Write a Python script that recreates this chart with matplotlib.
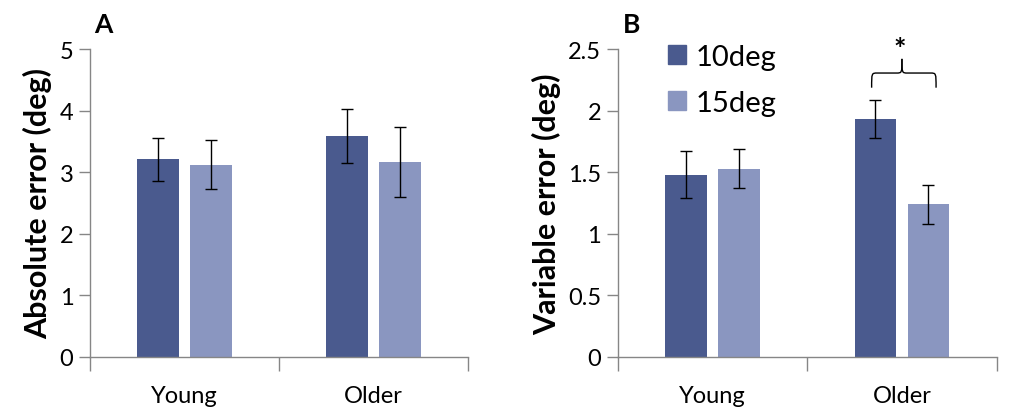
import numpy as np
import matplotlib
matplotlib.use('Agg')
import matplotlib.pyplot as plt
from matplotlib.patches import Patch
from matplotlib.path import Path
from matplotlib.patches import PathPatch

plt.rcParams['font.family'] = ['Lato', 'DejaVu Sans']

# Data
groups = ['Young', 'Older']
conditions = ['10deg', '15deg']

abs_10 = [3.21, 3.59]
abs_15 = [3.12, 3.16]
abs_10_err = [0.35, 0.44]
abs_15_err = [0.40, 0.57]

var_10 = [1.48, 1.93]
var_15 = [1.53, 1.24]
var_10_err = [0.19, 0.155]
var_15_err = [0.16, 0.157]

dark = '#4a5a8e'
light = '#8a96c0'
spine_col = '#868686'


def style_axes(ax, ylim, yticks, ylabel):
    x = np.arange(len(groups))
    ax.set_xlim(-0.5, len(groups) - 0.5)
    ax.set_ylim(*ylim)
    ax.set_yticks(yticks)
    ax.set_yticklabels([f'{t:g}' for t in yticks])
    ax.set_xticks(np.arange(len(groups) + 1) - 0.5)
    ax.set_xticklabels([])
    ax.set_xticks(x, minor=True)
    ax.set_xticklabels(groups, minor=True)
    ax.tick_params(axis='x', which='minor', length=0, pad=20, labelsize=17)
    ax.tick_params(axis='x', which='major', length=10, width=1, color=spine_col)
    ax.tick_params(axis='y', length=8, width=1, color=spine_col, labelsize=17, pad=4)
    for s in ['top', 'right']:
        ax.spines[s].set_visible(False)
    for s in ['left', 'bottom']:
        ax.spines[s].set_color(spine_col)
        ax.spines[s].set_linewidth(1)
    ax.set_ylabel(ylabel, fontsize=22, fontweight='bold', labelpad=5)


def draw_bars(ax, v10, v15, e10, e15):
    x = np.arange(len(groups))
    off, w = 0.14, 0.22
    ekw = dict(ecolor='black', elinewidth=1, capsize=4, capthick=1)
    ax.bar(x - off, v10, w, color=dark, yerr=e10, error_kw=ekw)
    ax.bar(x + off, v15, w, color=light, yerr=e15, error_kw=ekw)
    return off


fig = plt.figure(figsize=(10.16, 4.14), dpi=100)
axA = fig.add_axes([0.0886, 0.1353, 0.372, 0.7439])
axB = fig.add_axes([0.608, 0.1353, 0.373, 0.7439])

draw_bars(axA, abs_10, abs_15, abs_10_err, abs_15_err)
style_axes(axA, (0, 5), [0, 1, 2, 3, 4, 5], 'Absolute error (deg)')

off = draw_bars(axB, var_10, var_15, var_10_err, var_15_err)
style_axes(axB, (0, 2.5), [0, 0.5, 1, 1.5, 2, 2.5], 'Variable error (deg)')

fig.text(0.093, 0.92, 'A', fontsize=19, fontweight='bold')
fig.text(0.613, 0.92, 'B', fontsize=19, fontweight='bold')

# Legend
handles = [Patch(color=dark, label=conditions[0]), Patch(color=light, label=conditions[1])]
axB.legend(handles=handles, loc='upper left', bbox_to_anchor=(0.095, 1.065),
           frameon=False, fontsize=21, handlelength=0.62, handleheight=0.62,
           handletextpad=0.3, labelspacing=0.7, borderpad=0)

# Significance brace over the Older group
gi = 1
xl = gi - off - 0.02
xr = gi + off + 0.04
xm = (xl + xr) / 2 - 0.01
y_end = 2.186
y_bar = 2.305
y_top = 2.42
r = 0.03
verts = [
    (xl, y_end), (xl, y_bar), (xl, y_bar), (xl + r, y_bar),
    (xm - r, y_bar), (xm, y_bar), (xm, y_bar), (xm, y_top),
]
codes = [Path.MOVETO, Path.CURVE4, Path.CURVE4, Path.CURVE4,
         Path.LINETO, Path.CURVE4, Path.CURVE4, Path.CURVE4]
verts2 = [
    (xr, y_end), (xr, y_bar), (xr, y_bar), (xr - r, y_bar),
    (xm + r, y_bar), (xm, y_bar), (xm, y_bar), (xm, y_top),
]
for v in (verts, verts2):
    axB.add_patch(PathPatch(Path(v, codes), fill=False, lw=1, color='black', clip_on=False))
axB.text(xm - 0.01, 2.5, '*', ha='center', va='center', fontsize=21, fontweight='bold')

fig.savefig('out.png', dpi=100)
